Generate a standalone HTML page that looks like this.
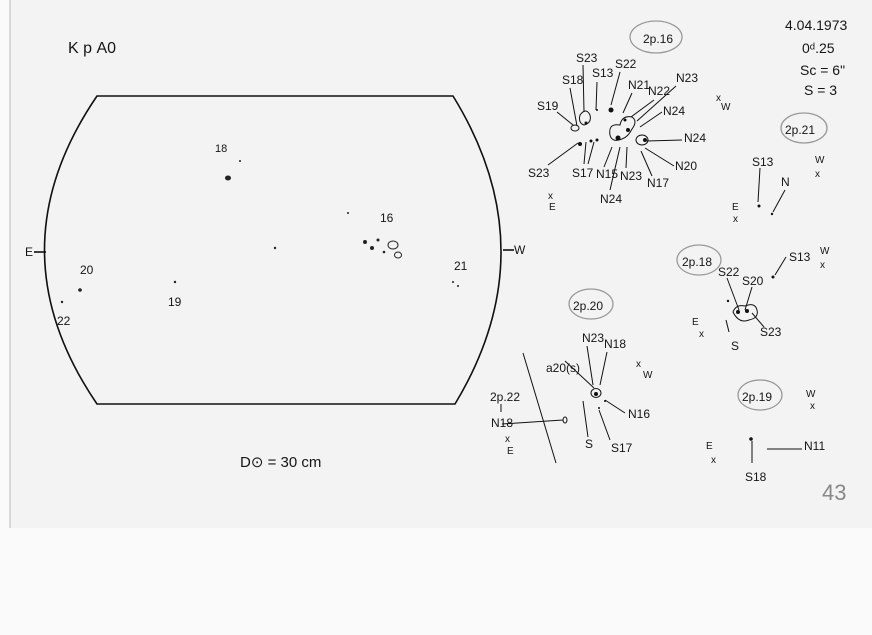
<!DOCTYPE html>
<html><head><meta charset="utf-8"><style>
html,body{margin:0;padding:0;width:872px;height:635px;overflow:hidden;background:#fafafa}
svg{display:block}
text{font-family:"Liberation Sans",sans-serif;fill:#151515}
</style></head><body>
<svg width="872" height="635" viewBox="0 0 872 635" xmlns="http://www.w3.org/2000/svg">
<rect x="0" y="0" width="872" height="635" fill="#fafafa"/>
<rect x="10" y="0" width="862" height="528" fill="#f3f3f3"/>
<line x1="10" y1="0" x2="10" y2="528" stroke="#bbb" stroke-width="1"/>
<g stroke="#111" fill="none" stroke-width="1.6">
<path d="M97,96 L453,96 Q548,250 455,404 L97,404 Q-8,250 97,96 Z"/>
<line x1="34" y1="252" x2="46" y2="252"/><line x1="503" y1="250" x2="514" y2="250"/>
</g>
<g font-size="12">
<text x="25" y="256">E</text><text x="514" y="254">W</text>
<text x="68" y="53" font-size="16">K р A0</text>
<text x="215" y="152" font-size="11">18</text>
<text x="380" y="222" font-size="12">16</text>
<text x="80" y="274" font-size="12">20</text>
<text x="57" y="325" font-size="12">22</text>
<text x="168" y="306" font-size="12">19</text>
<text x="454" y="270" font-size="12">21</text>
<text x="240" y="467" font-size="15">D⊙ = 30 cm</text>
<text x="785" y="30" font-size="14">4.04.1973</text>
<text x="802" y="53" font-size="14">0ᵈ.25</text>
<text x="800" y="75" font-size="14">Sc = 6"</text>
<text x="804" y="95" font-size="14">S = 3</text>
<text x="822" y="500" font-size="22" fill="#888" style="fill:#888">43</text>
</g>
<!-- disk spots -->
<g fill="#222">
<ellipse cx="228" cy="178" rx="3" ry="2.5"/><circle cx="240" cy="161" r="1"/>
<circle cx="275" cy="248" r="1.2"/><circle cx="348" cy="213" r="1"/>
<circle cx="365" cy="242" r="2"/><circle cx="372" cy="248" r="2"/><circle cx="378" cy="240" r="1.5"/><circle cx="384" cy="252" r="1.3"/>
<ellipse cx="393" cy="245" rx="5" ry="4" fill="none" stroke="#222"/><ellipse cx="398" cy="255" rx="3.5" ry="3" fill="none" stroke="#222"/>
<circle cx="80" cy="290" r="1.8"/><circle cx="62" cy="302" r="1.2"/><circle cx="175" cy="282" r="1.2"/>
<circle cx="453" cy="282" r="1"/><circle cx="458" cy="286" r="1"/>
</g>
<!-- group ellipses -->
<g fill="none" stroke="#999" stroke-width="1.3">
<ellipse cx="656" cy="37" rx="26" ry="16"/><ellipse cx="804" cy="128" rx="23" ry="15"/>
<ellipse cx="699" cy="260" rx="22" ry="15"/><ellipse cx="591" cy="304" rx="22" ry="15"/>
<ellipse cx="760" cy="395" rx="22" ry="15"/>
</g>
<g font-size="12">
<text x="643" y="43">2p.16</text><text x="785" y="134">2p.21</text>
<text x="682" y="266">2p.18</text><text x="573" y="310">2p.20</text><text x="742" y="401">2p.19</text>
<!-- group 16 -->
<text x="576" y="62">S23</text><text x="562" y="84">S18</text><text x="592" y="77">S13</text><text x="615" y="68">S22</text>
<text x="537" y="110">S19</text><text x="628" y="89">N21</text><text x="648" y="95">N22</text><text x="676" y="82">N23</text>
<text x="663" y="115">N24</text><text x="684" y="142">N24</text><text x="675" y="170">N20</text><text x="647" y="187">N17</text>
<text x="528" y="177">S23</text><text x="572" y="177">S17</text><text x="596" y="178">N15</text><text x="620" y="180">N23</text>
<text x="600" y="203">N24</text>
<text x="716" y="101" font-size="10">x</text><text x="721" y="110" font-size="10">W</text>
<text x="548" y="199" font-size="10">x</text><text x="549" y="210" font-size="10">E</text>
<!-- group 21 -->
<text x="752" y="166">S13</text><text x="781" y="186">N</text>
<text x="815" y="163" font-size="10">W</text><text x="815" y="177" font-size="10">x</text>
<text x="732" y="210" font-size="10">E</text><text x="733" y="222" font-size="10">x</text>
<!-- group 18 -->
<text x="718" y="276">S22</text><text x="742" y="285">S20</text><text x="789" y="261">S13</text>
<text x="760" y="336">S23</text><text x="731" y="350">S</text>
<text x="820" y="254" font-size="10">W</text><text x="820" y="268" font-size="10">x</text>
<text x="692" y="325" font-size="10">E</text><text x="699" y="337" font-size="10">x</text>
<!-- group 20 -->
<text x="546" y="372">a20(s)</text><text x="582" y="342">N23</text><text x="604" y="348">N18</text>
<text x="628" y="418">N16</text><text x="585" y="448">S</text><text x="611" y="452">S17</text>
<text x="636" y="367" font-size="10">x</text><text x="643" y="378" font-size="10">W</text>
<text x="490" y="401">2p.22</text><text x="491" y="427">N18</text>
<text x="505" y="442" font-size="10">x</text><text x="507" y="454" font-size="10">E</text>
<!-- group 19 -->
<text x="806" y="397" font-size="10">W</text><text x="810" y="409" font-size="10">x</text>
<text x="706" y="449" font-size="10">E</text><text x="711" y="463" font-size="10">x</text>
<text x="804" y="450">N11</text><text x="745" y="481">S18</text>
</g>
<g stroke="#111" stroke-width="1" fill="none">
<!-- group 16 leaders -->
<line x1="583" y1="65" x2="584" y2="112"/><line x1="570" y1="88" x2="577" y2="126"/><line x1="597" y1="82" x2="596" y2="110"/>
<line x1="620" y1="72" x2="611" y2="105"/><line x1="557" y1="112" x2="573" y2="125"/>
<line x1="632" y1="93" x2="623" y2="113"/><line x1="654" y1="100" x2="631" y2="117"/><line x1="676" y1="86" x2="637" y2="121"/>
<line x1="662" y1="112" x2="640" y2="127"/><line x1="682" y1="140" x2="647" y2="141"/><line x1="674" y1="166" x2="645" y2="148"/>
<line x1="652" y1="176" x2="641" y2="151"/>
<line x1="548" y1="165" x2="578" y2="143"/><line x1="584" y1="164" x2="586" y2="142"/><line x1="588" y1="164" x2="594" y2="142"/>
<line x1="604" y1="167" x2="612" y2="147"/><line x1="626" y1="168" x2="627" y2="147"/><line x1="610" y1="190" x2="620" y2="147"/>
<path d="M580,115 q6,-8 10,0 q2,8 -6,10 q-6,-2 -4,-10Z"/>
<path d="M610,135 q-2,-12 10,-10 q2,-10 12,-8 q6,4 0,12 q-4,8 -10,10 q-10,4 -12,-4Z"/>
<ellipse cx="642" cy="140" rx="6" ry="5"/><ellipse cx="575" cy="128" rx="4" ry="3"/>
<!-- group 21 -->
<line x1="760" y1="168" x2="758" y2="202"/><line x1="785" y1="190" x2="773" y2="212"/>
<!-- group 18 -->
<line x1="727" y1="278" x2="739" y2="310"/><line x1="752" y1="287" x2="745" y2="310"/><line x1="786" y1="257" x2="775" y2="275"/>
<line x1="764" y1="327" x2="752" y2="313"/><line x1="726" y1="320" x2="729" y2="332"/>
<path d="M733,312 q3,-8 12,-6 q10,-4 12,4 q2,8 -8,10 q-10,4 -16,-8Z"/>
<!-- group 20 -->
<line x1="565" y1="361" x2="594" y2="388"/><line x1="587" y1="346" x2="593" y2="385"/><line x1="607" y1="352" x2="600" y2="385"/>
<line x1="605" y1="400" x2="625" y2="413"/><line x1="583" y1="401" x2="588" y2="437"/><line x1="599" y1="410" x2="610" y2="440"/>
<ellipse cx="596" cy="393" rx="5" ry="4.5"/>
<path d="M523,353 Q540,410 556,463"/>
<line x1="502" y1="424" x2="563" y2="420"/><line x1="501" y1="404" x2="501" y2="412"/>
<ellipse cx="565" cy="420" rx="2" ry="3"/>
<!-- group 19 -->
<line x1="752" y1="441" x2="752" y2="463"/><line x1="767" y1="449" x2="802" y2="449"/>
</g>
<g fill="#111">
<circle cx="611" cy="110" r="2.5"/><circle cx="597" cy="110" r="1"/><circle cx="586" cy="123" r="1.5"/>
<circle cx="618" cy="138" r="2.5"/><circle cx="628" cy="130" r="2"/><circle cx="625" cy="120" r="1.5"/><circle cx="645" cy="140" r="2"/>
<circle cx="580" cy="144" r="2"/><circle cx="591" cy="141" r="1.5"/><circle cx="597" cy="140" r="1.5"/>
<circle cx="759" cy="206" r="1.5"/><circle cx="772" cy="214" r="1.2"/>
<circle cx="728" cy="301" r="1.2"/><circle cx="773" cy="277" r="1.5"/><circle cx="738" cy="312" r="2"/><circle cx="747" cy="311" r="2"/>
<circle cx="596" cy="394" r="2"/><circle cx="605" cy="401" r="1"/><circle cx="599" cy="408" r="1"/>
<circle cx="751" cy="439" r="1.8"/>
</g>
</svg>
</body></html>
